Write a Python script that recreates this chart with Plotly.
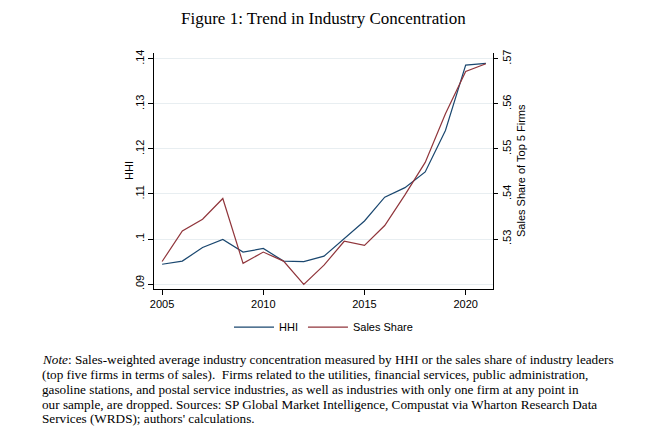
import plotly.graph_objects as go

years = list(range(2005, 2022))
hhi = [0.0944, 0.0951, 0.0981, 0.0999, 0.0971, 0.0979, 0.0951, 0.0950, 0.0962,
       0.1000, 0.1040, 0.1093, 0.1114, 0.1149, 0.1241, 0.1386, 0.1390]
sales_share = [0.5250, 0.5318, 0.5344, 0.5390, 0.5246, 0.5271, 0.5251, 0.5199, 0.5242,
               0.5295, 0.5286, 0.5330, 0.5398, 0.5470, 0.5578, 0.5672, 0.5689]

x_ticks = [2005, 2010, 2015, 2020]
hhi_ticks = [0.09, 0.10, 0.11, 0.12, 0.13, 0.14]
hhi_labels = [".09", ".1", ".11", ".12", ".13", ".14"]
ss_ticks = [0.53, 0.54, 0.55, 0.56, 0.57]
ss_labels = [".53", ".54", ".55", ".56", ".57"]

title_text = "Figure 1: Trend in Industry Concentration"
left_title = "HHI"
right_title = "Sales Share of Top 5 Firms"
note_lines = [
    "<i>Note</i>: Sales-weighted average industry concentration measured by HHI or the sales share of industry leaders",
    "(top five firms in terms of sales).  Firms related to the utilities, financial services, public administration,",
    "gasoline stations, and postal service industries, as well as industries with only one firm at any point in",
    "our sample, are dropped. Sources: SP Global Market Intelligence, Compustat via Wharton Research Data",
    "Services (WRDS); authors' calculations.",
]

blue = "#1a476f"
maroon = "#90353b"

W, H = 651, 444
ML, MR, MT, MB = 146, 166, 45, 163
PW, PH = W - ML - MR, H - MT - MB

fig = go.Figure()
fig.add_trace(go.Scatter(x=years, y=hhi, mode="lines", name="HHI",
                         line=dict(color=blue, width=1.2), yaxis="y"))
fig.add_trace(go.Scatter(x=years, y=sales_share, mode="lines", name="Sales Share",
                         line=dict(color=maroon, width=1.2), yaxis="y2"))

tickfont = dict(family="Liberation Sans, Arial, sans-serif", size=11, color="#000")

fig.update_layout(
    width=W, height=H,
    margin=dict(l=ML, r=MR, t=MT, b=MB),
    paper_bgcolor="white", plot_bgcolor="white",
    showlegend=True,
    legend=dict(orientation="h", x=0.5, xanchor="center", y=-0.1, yanchor="top",
                font=dict(family="Liberation Sans, Arial, sans-serif", size=11, color="#000"),
                itemwidth=40),
    xaxis=dict(range=[2004.6, 2021.35], tickvals=x_ticks, ticks="outside", ticklen=5,
               tickcolor="#000", showline=True, linecolor="#000", linewidth=1,
               showgrid=False, zeroline=False, tickfont=tickfont),
    yaxis=dict(range=[0.0889, 0.1413], tickvals=hhi_ticks, ticktext=hhi_labels,
               tickangle=-90, ticks="outside", ticklen=5, tickcolor="#000",
               showline=True, linecolor="#000", linewidth=1,
               showgrid=True, gridcolor="#e8eef1", gridwidth=1, zeroline=False,
               tickfont=tickfont),
    yaxis2=dict(range=[0.5189, 0.5713], tickvals=ss_ticks, ticktext=ss_labels,
                overlaying="y", side="right", anchor="x",
                tickangle=-90, ticks="outside", ticklen=4, tickcolor="#000",
                showline=True, linecolor="#000", linewidth=1,
                showgrid=False, zeroline=False, tickfont=tickfont),
)

fig.add_annotation(text=left_title, xref="paper", yref="paper",
                   x=(121 - ML) / PW, y=0.5, xanchor="center", yanchor="middle",
                   textangle=-90, showarrow=False, font=tickfont)
fig.add_annotation(text=right_title, xref="paper", yref="paper",
                   x=(513 - ML) / PW, y=0.5, xanchor="center", yanchor="middle",
                   textangle=-90, showarrow=False, font=tickfont)

fig.add_annotation(text=title_text, xref="paper", yref="paper",
                   x=0.5, y=1, yshift=MT - 10, xanchor="center", yanchor="middle",
                   showarrow=False,
                   font=dict(family="Liberation Serif, Times New Roman, serif", size=17, color="#000"))

line_y = [351, 366, 381, 396, 411]
for txt, yp in zip(note_lines, line_y):
    fig.add_annotation(text=txt, xref="paper", yref="paper",
                       x=(32 - ML) / PW, y=(H - MB - yp) / PH,
                       xanchor="left", yanchor="middle", showarrow=False,
                       font=dict(family="Liberation Serif, Times New Roman, serif", size=13.2, color="#000"))

fig.write_html("out.html")
